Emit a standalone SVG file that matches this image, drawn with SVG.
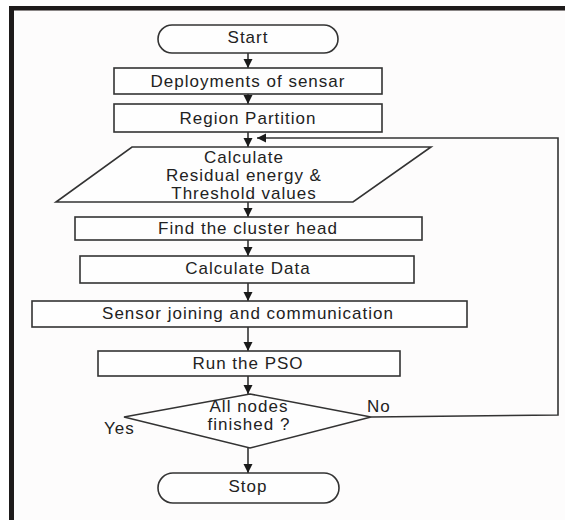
<svg xmlns="http://www.w3.org/2000/svg" width="565" height="520" viewBox="0 0 565 520">
  <defs>
    <marker id="ah" markerUnits="userSpaceOnUse" markerWidth="10" markerHeight="10" refX="9" refY="4.5" orient="auto">
      <path d="M0,0 L9,4.5 L0,9 z" fill="#1a1a1a"/>
    </marker>
  </defs>
  <style>
    .shape { fill: #fefefe; stroke: #333; stroke-width: 1.6; }
    .conn { fill: none; stroke: #333; stroke-width: 1.6; }
    text { font-family: "Liberation Sans", Arial, sans-serif; font-size: 17px; fill: #222; letter-spacing: 1px; text-anchor: middle; dominant-baseline: central; }
    .lbl { text-anchor: start; }
  </style>
  <rect x="0" y="0" width="565" height="520" fill="#ffffff"/>
  <rect x="9" y="6" width="556" height="514" fill="#1e1b1b"/>
  <rect x="14" y="10" width="551" height="510" fill="#fdfcfc"/>
  <line x1="14" y1="10.5" x2="565" y2="10.5" stroke="#8a8686" stroke-width="1"/>

  <g id="connectors">
    <line class="conn" x1="248" y1="53" x2="248" y2="68" marker-end="url(#ah)"/>
    <line class="conn" x1="248" y1="94" x2="248" y2="104" marker-end="url(#ah)"/>
    <line class="conn" x1="248" y1="132" x2="248" y2="147" marker-end="url(#ah)"/>
    <line class="conn" x1="248" y1="202" x2="248" y2="217" marker-end="url(#ah)"/>
    <line class="conn" x1="248" y1="240" x2="248" y2="256" marker-end="url(#ah)"/>
    <line class="conn" x1="248" y1="283" x2="248" y2="301" marker-end="url(#ah)"/>
    <line class="conn" x1="248" y1="327" x2="248" y2="351" marker-end="url(#ah)"/>
    <line class="conn" x1="248" y1="376" x2="248" y2="394" marker-end="url(#ah)"/>
    <line class="conn" x1="248" y1="448" x2="248" y2="473" marker-end="url(#ah)"/>
    <polyline class="conn" points="371,417 558,415 558,138 257,138" marker-end="url(#ah)"/>
  </g>

  <g id="start">
    <rect class="shape" x="158" y="25" width="180" height="28" rx="14" ry="14"/>
    <text x="248" y="37">Start</text>
  </g>
  <g id="deploy">
    <rect class="shape" x="114" y="68" width="268" height="26"/>
    <text x="248" y="81">Deployments of sensar</text>
  </g>
  <g id="region">
    <rect class="shape" x="114" y="104" width="268" height="28"/>
    <text x="248" y="118">Region Partition</text>
  </g>
  <g id="calc">
    <polygon class="shape" points="132,147 431,147 353,202 56,202"/>
    <text x="244" y="157">Calculate</text>
    <text x="244" y="175">Residual energy &amp;</text>
    <text x="244" y="193">Threshold values</text>
  </g>
  <g id="cluster">
    <rect class="shape" x="75" y="217" width="347" height="23"/>
    <text x="248" y="228">Find the cluster head</text>
  </g>
  <g id="data">
    <rect class="shape" x="80" y="256" width="334" height="27"/>
    <text x="248" y="268">Calculate Data</text>
  </g>
  <g id="join">
    <rect class="shape" x="32" y="301" width="435" height="26"/>
    <text x="248" y="313">Sensor joining and communication</text>
  </g>
  <g id="pso">
    <rect class="shape" x="98" y="351" width="302" height="25"/>
    <text x="248" y="363">Run  the PSO</text>
  </g>
  <g id="decision">
    <polygon class="shape" points="250,394 371,417 250,448 124,417"/>
    <text x="249" y="406">All nodes</text>
    <text x="249" y="424">finished ?</text>
    <text class="lbl" x="367" y="406">No</text>
    <text class="lbl" x="104" y="428">Yes</text>
  </g>
  <g id="stop">
    <rect class="shape" x="158" y="473" width="181" height="30" rx="15" ry="15"/>
    <text x="248" y="486">Stop</text>
  </g>
</svg>
